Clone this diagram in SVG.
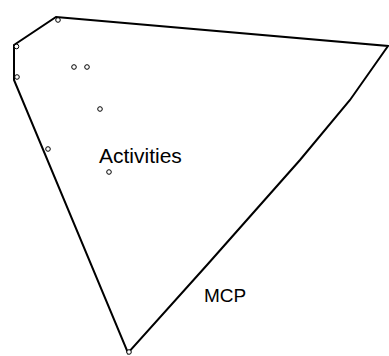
<svg xmlns="http://www.w3.org/2000/svg" width="389" height="356" viewBox="0 0 389 356">
<style>
.hull{fill:none;stroke:#000;stroke-width:2;stroke-linejoin:miter}
.pt{fill:#fff;stroke:#000;stroke-width:1}
.lbl{font-family:"Liberation Sans",Arial,sans-serif;fill:#000}
</style>
<rect width="389" height="356" fill="#fff"/>
<g id="connectors">
<polygon class="hull" points="56,17 388,46 350,100 300,160 207,265 128,353 14,80 14,45"/>
</g>
<g id="points">
<circle class="pt" cx="58" cy="20" r="2.3"/>
<circle class="pt" cx="16.5" cy="46.5" r="2.3"/>
<circle class="pt" cx="17" cy="77" r="2.3"/>
<circle class="pt" cx="74" cy="67" r="2.3"/>
<circle class="pt" cx="87" cy="67" r="2.3"/>
<circle class="pt" cx="100" cy="109" r="2.3"/>
<circle class="pt" cx="48" cy="149" r="2.3"/>
<circle class="pt" cx="109" cy="172" r="2.3"/>
<circle class="pt" cx="129" cy="352" r="2.3"/>
</g>
<g id="activities"><text class="lbl" x="99" y="163" font-size="21">Activities</text></g>
<g id="mcp"><text class="lbl" x="204" y="302" font-size="19">MCP</text></g>
</svg>
